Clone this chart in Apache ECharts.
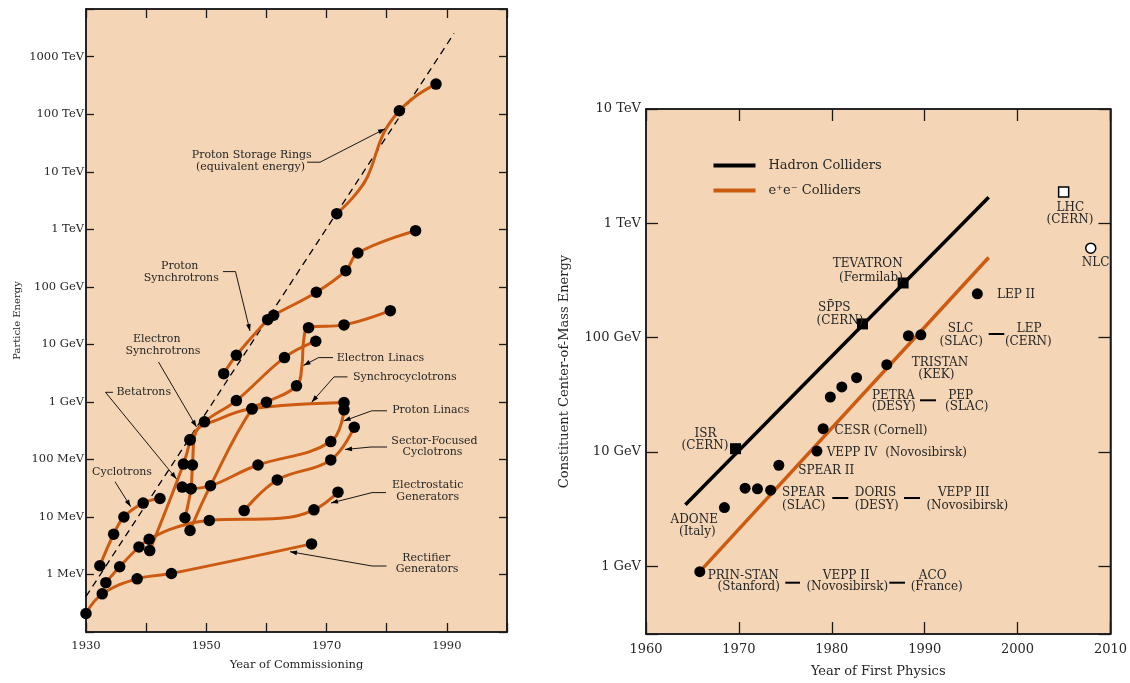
<!DOCTYPE html>
<html><head><meta charset="utf-8">
<script src="https://cdn.jsdelivr.net/npm/echarts@6/dist/echarts.min.js"></script>
<style>html,body{margin:0;padding:0;background:#fff}#c{width:1130px;height:683px}</style>
</head><body><div id="c"></div><script>
// ===== Left panel (Livingston plot): [year, energy in MeV, 1 = machine dot / 0 = curve-shape point] =====
const rectifierGenerators = [[1930.0,0.21,1],[1932.7,0.46,1],[1938.5,0.84,1],[1944.2,1.04,1],[1967.5,3.4,1]];
const electrostaticGenerators = [[1933.3,0.72,1],[1935.6,1.36,1],[1938.8,3.0,1],[1940.5,4.1,1],[1944.6,6.4,0],[1950.5,8.7,1],[1962.3,9.5,0],[1967.9,13.3,1],[1971.9,27,1]];
const cyclotrons = [[1932.3,1.42,1],[1934.6,5.0,1],[1936.3,10,1],[1939.5,17.4,1],[1942.3,20.9,1]];
const betatrons = [[1940.6,2.6,1],[1946.2,83,1],[1947.3,219,1]];
const electronSynchrotrons = [[1947.3,219,1],[1949.7,450,1],[1955.0,1054,1],[1963.0,5890,1],[1968.2,11350,1]];
const synchrocyclotrons = [[1946.45,9.7,1],[1947.45,31,1],[1947.7,80,1],[1948.2,290,0],[1951.8,487,0],[1957.6,757,1],[1972.9,973,1]];
const protonLinacs = [[1946.0,33,1],[1947.45,31,1],[1958.6,80,1],[1970.7,204,1],[1972.9,727,1]];
const sectorFocusedCyclotrons = [[1956.3,12.9,1],[1961.8,44,1],[1970.7,98,1],[1974.6,364,1]];
const electronLinacs = [[1947.3,5.8,1],[1950.7,35,1],[1957.6,757,1],[1960.0,989,1],[1965.0,1900,1],[1965.9,4230,0],[1966.2,12000,0],[1967.0,19500,1],[1972.9,21800,1],[1980.6,38600,1]];
const protonSynchrotrons = [[1952.9,3100,1],[1955.0,6480,1],[1960.2,26900,1],[1961.2,32100,1],[1968.3,80600,1],[1973.2,191000,1],[1975.2,388000,1],[1984.8,947000,1]];
const protonStorageRings = [[1971.7,1.87e6,1],[1974.5,3.7e6,0],[1976.8,8.2e6,0],[1979.5,4.7e7,0],[1982.1,1.15e8,1],[1985.1,2.16e8,0],[1988.2,3.35e8,1]];
const livingstonTrend = [[1930,0.415],[1991.2,2.55e9]];
const leftYearTicks = [1930,1950,1970,1990];
const leftEnergyLabels = ['1 MeV','10 MeV','100 MeV','1 GeV','10 GeV','100 GeV','1 TeV','10 TeV','100 TeV','1000 TeV']; // 10^0 .. 10^9 MeV

// ===== Right panel (colliders): [year, constituent CM energy in GeV] =====
const hadronTrend = [[1964.24,3.46],[1996.89,1694]];
const eeTrend = [[1965.79,0.90],[1996.89,503]];
const hadronColliders = [[1969.64,10.7],[1983.31,132],[1987.68,301]]; // ISR, SppS, TEVATRON
const eeColliders = [[1965.79,0.90],[1968.44,3.27],[1970.67,4.83],[1972.0,4.77],[1973.42,4.64],[1974.3,7.67],[1978.4,10.2],[1979.07,16.0],[1979.84,30.3],[1981.08,37.1],[1982.67,44.7],[1985.92,58.1],[1988.25,104],[1989.59,106],[1995.67,242]];
const futureHadron = [[2004.96,1884]]; // LHC
const futureEE = [[2007.88,607]];     // NLC
const rightYearTicks = [1960,1970,1980,1990,2000,2010];
const rightEnergyLabels = ['1 GeV','10 GeV','100 GeV','1 TeV','10 TeV']; // 10^0 .. 10^4 GeV

// ===== Annotations (pixel layout) =====
const leftNotes = [
 ['Proton Storage Rings',251.7,155.3],['(equivalent energy)',250.5,166.7],
 ['Proton',179.7,266.3],['Synchrotrons',181.3,277.7],
 ['Electron',156.7,339],['Synchrotrons',163,350.7],
 ['Betatrons',143.8,392.3],['Cyclotrons',122,472.3],
 ['Electron Linacs',380.5,357.7],['Synchrocyclotrons',404.8,376.9],['Proton Linacs',430.8,410],
 ['Sector-Focused',434.5,441],['Cyclotrons',432.5,452],
 ['Electrostatic',427.7,484.8],['Generators',427.7,496.8],
 ['Rectifier',426.3,557.8],['Generators',427,568.8]
];
const leftLeaders = [
 [[307,162.2],[320,162.2],[385,128.8]],
 [[223,271.6],[235.5,271.6],[250,331]],
 [[158.5,362],[196.5,427]],
 [[113,392.3],[105.5,392.3],[176.5,479]],
 [[115,481.7],[130.7,506.7]],
 [[333,357.6],[318.5,357.6],[303.5,365.5]],
 [[347.5,376.9],[334,376.9],[311.7,402.2]],
 [[387,410.8],[371.7,410.8],[343.6,421]],
 [[387,447],[371,447],[345,449.5]],
 [[386,492.6],[372,492.6],[331,503]],
 [[386.5,566],[372,566],[290,551.7]]
];
const rightNotes = [
 ['TEVATRON',867.7,264.3],['(Fermilab)',871,278.3],
 ['SP\u0304PS',834.3,308.3],['(CERN)',840,320.7],
 ['ISR',705.5,434],['(CERN)',705,445.7],
 ['ADONE',694.2,520],['(Italy)',697.3,532.3],
 ['PRIN-STAN',743.3,575.7],['(Stanford)',748.7,587.3],
 ['VEPP II',846.2,575.7],['(Novosibirsk)',847.3,587.3],
 ['ACO',932.7,575.7],['(France)',936.7,587.3],
 ['SPEAR',803.3,492.7],['(SLAC)',803.7,506],
 ['DORIS',875.5,492.7],['(DESY)',876.7,506],
 ['VEPP III',963.7,492.7],['(Novosibirsk)',967.3,505.7],
 ['SPEAR II',826.3,470.7],
 ['VEPP IV  (Novosibirsk)',896.8,453.3],
 ['CESR (Cornell)',881,431],
 ['PETRA',893.3,395.7],['(DESY)',893.7,407.3],
 ['PEP',960.7,395.7],['(SLAC)',966.8,407.3],
 ['TRISTAN',940,362.7],['(KEK)',936.3,375],
 ['SLC',960.5,329],['(SLAC)',961.2,341.7],
 ['LEP',1029.2,329],['(CERN)',1028.3,342],
 ['LEP II',1016,295],
 ['LHC',1070.4,207.7],['(CERN)',1070,220],
 ['NLC',1095.5,262.7]
];
const rightDashes = [[785.3,800,582.7],[889.3,905,582.7],[832.3,848.3,498],[904,920,498],[920,936,400.3],[988.7,1004.3,334]];

// ===== Build =====
const FONT = '"DejaVu Serif", "Liberation Serif", serif';
const ORANGE = '#cc5a10';
const INK = '#000000';
const TXT = '#262626';
const PEACH = '#f4d6b7';

function expFormatter(labels) {
  return function (v) {
    const e = Math.log10(v), r = Math.round(e);
    if (Math.abs(e - r) > 1e-6) return '';
    return labels[r] !== undefined ? labels[r] : '';
  };
}
function xAxisDef(gi, min, max, pos, ticks, fs, tickLen, labelMargin, name, nameGap) {
  return {
    gridIndex: gi, type: 'value', min: min, max: max, interval: 10, position: pos,
    name: name || '', nameLocation: 'middle', nameGap: nameGap || 0,
    nameTextStyle: {fontFamily: FONT, fontSize: fs, color: TXT},
    axisLine: {show: true, lineStyle: {color: '#1a1a1a', width: 1.5}},
    axisTick: {show: true, inside: true, length: tickLen, lineStyle: {color: '#1a1a1a', width: 1.3}},
    axisLabel: {show: !!ticks, margin: labelMargin, fontFamily: FONT, fontSize: fs, color: TXT,
      formatter: v => (ticks && ticks.indexOf(v) >= 0) ? String(v) : ''},
    splitLine: {show: false}
  };
}
function yAxisDef(gi, min, max, pos, labels, fs, tickLen, labelMargin, name, nameGap, nfs, interval) {
  const a = {
    gridIndex: gi, type: 'log', logBase: 10, min: min, max: max, position: pos,
    name: name || '', nameLocation: 'middle', nameGap: nameGap || 0,
    nameTextStyle: {fontFamily: FONT, fontSize: nfs || fs, color: TXT},
    axisLine: {show: true, lineStyle: {color: '#1a1a1a', width: 1.5}},
    axisTick: {show: true, inside: true, length: tickLen, lineStyle: {color: '#1a1a1a', width: 1.3}},
    axisLabel: {show: !!labels, margin: labelMargin, fontFamily: FONT, fontSize: fs, color: TXT,
      formatter: labels ? expFormatter(labels) : ''},
    splitLine: {show: false}, minorTick: {show: false}
  };
  if (interval) a.interval = interval;
  return a;
}

const leftChains = [rectifierGenerators, electrostaticGenerators, cyclotrons, betatrons, electronSynchrotrons,
  synchrocyclotrons, protonLinacs, sectorFocusedCyclotrons, electronLinacs, protonSynchrotrons, protonStorageRings];

const series = [];
leftChains.forEach(ch => series.push({
  type: 'line', xAxisIndex: 0, yAxisIndex: 0, smooth: 0.4, showSymbol: false, silent: true,
  lineStyle: {color: ORANGE, width: 3}, data: ch.map(p => [p[0], p[1]]), z: 3
}));
series.push({type: 'line', xAxisIndex: 0, yAxisIndex: 0, showSymbol: false, silent: true,
  lineStyle: {color: INK, width: 1.3, type: [7, 5]}, data: livingstonTrend, z: 2});
const leftDots = [];
leftChains.forEach(ch => ch.forEach(p => { if (p[2]) leftDots.push([p[0], p[1]]); }));
series.push({type: 'scatter', xAxisIndex: 0, yAxisIndex: 0, symbol: 'circle', symbolSize: 11.5,
  itemStyle: {color: INK, opacity: 1}, data: leftDots, z: 6, silent: true});

series.push({name: 'Hadron Colliders', type: 'line', xAxisIndex: 2, yAxisIndex: 2, showSymbol: false, silent: true,
  lineStyle: {color: INK, width: 3.5}, itemStyle: {color: INK}, data: hadronTrend, z: 3});
series.push({name: 'e\u207Ae\u207B Colliders', type: 'line', xAxisIndex: 2, yAxisIndex: 2, showSymbol: false, silent: true,
  lineStyle: {color: ORANGE, width: 3.5}, itemStyle: {color: ORANGE}, data: eeTrend, z: 3});
series.push({type: 'scatter', xAxisIndex: 2, yAxisIndex: 2, symbol: 'rect', symbolSize: 11,
  itemStyle: {color: INK, opacity: 1}, data: hadronColliders, z: 6, silent: true});
series.push({type: 'scatter', xAxisIndex: 2, yAxisIndex: 2, symbol: 'circle', symbolSize: 11,
  itemStyle: {color: INK, opacity: 1}, data: eeColliders, z: 6, silent: true});
series.push({type: 'scatter', xAxisIndex: 2, yAxisIndex: 2, symbol: 'rect', symbolSize: 10,
  itemStyle: {color: '#ffffff', borderColor: INK, borderWidth: 1.5, opacity: 1}, data: futureHadron, z: 6, silent: true});
series.push({type: 'scatter', xAxisIndex: 2, yAxisIndex: 2, symbol: 'circle', symbolSize: 10,
  itemStyle: {color: '#ffffff', borderColor: INK, borderWidth: 1.5, opacity: 1}, data: futureEE, z: 6, silent: true});

// graphics
const graphic = [];
function txt(t, x, y, fs) {
  graphic.push({type: 'text', z: 50, silent: true, style: {text: t, x: x, y: y, fill: TXT,
    font: fs + 'px ' + FONT, textAlign: 'center', align: 'center', textVerticalAlign: 'middle', verticalAlign: 'middle'}});
}
leftNotes.forEach(n => txt(n[0], n[1], n[2], 11));
rightNotes.forEach(n => txt(n[0], n[1], n[2], 12));
leftLeaders.forEach(pts => {
  graphic.push({type: 'polyline', z: 50, silent: true, shape: {points: pts}, style: {stroke: INK, lineWidth: 0.9, fill: null}});
  const a = pts[pts.length - 2], b = pts[pts.length - 1];
  const dx = b[0] - a[0], dy = b[1] - a[1], L = Math.hypot(dx, dy), ux = dx / L, uy = dy / L;
  const bx = b[0] - ux * 7, by = b[1] - uy * 7;
  graphic.push({type: 'polygon', z: 50, silent: true, shape: {points: [b, [bx - uy * 2.4, by + ux * 2.4], [bx + uy * 2.4, by - ux * 2.4]]}, style: {fill: INK}});
});
rightDashes.forEach(d => graphic.push({type: 'line', z: 50, silent: true, shape: {x1: d[0], y1: d[2], x2: d[1], y2: d[2]}, style: {stroke: INK, lineWidth: 2}}));

const L_MIN = 0.1, L_MAX = Math.pow(10, 9.83);
const R_MIN = Math.pow(10, -0.591), R_MAX = 1e4;

const option = {
  animation: false,
  backgroundColor: '#ffffff',
  grid: [
    {left: 86, top: 9, width: 421, height: 623, show: true, backgroundColor: PEACH, borderColor: '#1a1a1a', borderWidth: 1.5},
    {left: 646, top: 109, width: 472, height: 526, show: true, backgroundColor: PEACH, borderColor: '#1a1a1a', borderWidth: 1.5}
  ],
  xAxis: [
    xAxisDef(0, 1930, 2000, 'bottom', leftYearTicks, 11.5, 9, 8, 'Year of Commissioning', 27),
    xAxisDef(0, 1930, 2000, 'top', null, 11.5, 9, 8),
    xAxisDef(1, 1960, 2010, 'bottom', rightYearTicks, 13, 12, 9, 'Year of First Physics', 31),
    xAxisDef(1, 1960, 2010, 'top', null, 13, 12, 9)
  ],
  yAxis: [
    yAxisDef(0, L_MIN, L_MAX, 'left', leftEnergyLabels, 11.5, 8, 2, 'Particle Energy', 64, 10, 1),
    yAxisDef(0, L_MIN, L_MAX, 'right', null, 11.5, 8, 2, '', 0, 10, 1),
    yAxisDef(1, R_MIN, R_MAX, 'left', rightEnergyLabels, 13, 12, 5, 'Constituent Center-of-Mass Energy', 75, 13),
    yAxisDef(1, R_MIN, R_MAX, 'right', null, 13, 12, 5)
  ],
  legend: {
    data: ['Hadron Colliders', 'e\u207Ae\u207B Colliders'], left: 713.5, top: 159, orient: 'vertical',
    icon: 'rect', itemWidth: 42, itemHeight: 4, itemGap: 12, padding: 0, selectedMode: false,
    textStyle: {fontFamily: FONT, fontSize: 13, color: TXT, padding: [0, 0, 0, 8]}
  },
  series: series,
  graphic: graphic
};
const chart = echarts.init(document.getElementById('c'));
chart.setOption(option);
</script></body></html>
